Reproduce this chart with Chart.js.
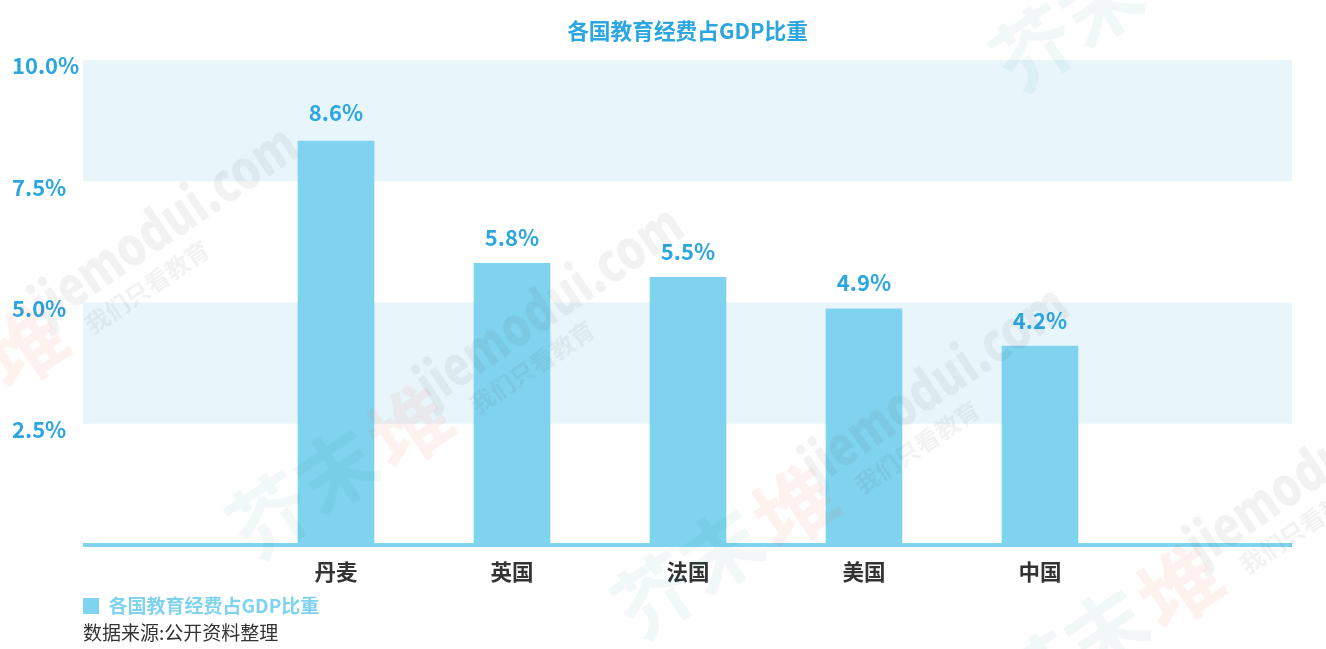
<!DOCTYPE html>
<html>
<head>
<meta charset="utf-8">
<title>各国教育经费占GDP比重</title>
<script src="https://cdn.jsdelivr.net/npm/chart.js@4"></script>
<style>
  html, body { margin: 0; padding: 0; background: #fff; }
  canvas { display: block; }
</style>
</head>
<body>
<canvas id="myChart" width="1326" height="649"></canvas>
<script>
const categories = ['丹麦', '英国', '法国', '美国', '中国'];
// bar heights as drawn; the printed labels differ a little for 丹麦
const barValues = [8.33, 5.81, 5.52, 4.87, 4.1];
const valueLabels = ['8.6%', '5.8%', '5.5%', '4.9%', '4.2%'];
const yTicks = [0, 2.5, 5, 7.5, 10];
const bandRanges = [[7.5, 10], [2.5, 5]];
const seriesName = '各国教育经费占GDP比重';
const sourceNote = '数据来源:公开资料整理';

const FONT = '"Noto Sans CJK SC", "Noto Sans", sans-serif';
const BLUE = '#2ba6e0';
const BAR = '#80d3ef';

const bandsAndMarks = {
  id: 'bandsAndMarks',
  beforeDatasetsDraw(chart) {
    const { ctx, chartArea, scales } = chart;
    ctx.save();
    ctx.fillStyle = '#e8f6fc';
    bandRanges.forEach(([lo, hi]) => {
      const top = scales.y.getPixelForValue(hi);
      const bottom = scales.y.getPixelForValue(lo);
      ctx.fillRect(chartArea.left, top, chartArea.width, bottom - top);
    });
    // axis line, cut square at the plot edges
    ctx.fillStyle = BAR;
    ctx.fillRect(chartArea.left, chartArea.bottom - 2, chartArea.width, 4);
    ctx.restore();
  },
  afterDatasetsDraw(chart) {
    const { ctx } = chart;
    ctx.save();
    ctx.font = 'bold 22px ' + FONT;
    ctx.fillStyle = BLUE;
    ctx.textAlign = 'center';
    ctx.textBaseline = 'middle';
    chart.getDatasetMeta(0).data.forEach((bar, i) => {
      ctx.fillText(valueLabels[i], bar.x, bar.y - (i === 0 ? 28 : 26));
    });
    ctx.restore();
  },
  afterDraw(chart) {
    // faint site stamp over everything
    const { ctx } = chart;
    [[1034, 48], [-115, 435], [270, 515], [655, 595], [1040, 675]].forEach(([x, y]) => {
      ctx.save();
      ctx.translate(x, y);
      ctx.rotate(-34 * Math.PI / 180);
      ctx.textBaseline = 'middle';
      ctx.font = 'bold 80px ' + FONT;
      ctx.fillStyle = 'rgba(0,120,90,0.05)';
      ctx.fillText('芥末', -40, 0);
      ctx.fillStyle = 'rgba(235,70,45,0.07)';
      ctx.fillText('堆', 125, 5);
      ctx.fillStyle = 'rgba(60,60,60,0.065)';
      ctx.save();
      ctx.translate(195, -20);
      ctx.scale(0.82, 1);
      ctx.font = '900 54px ' + FONT;
      ctx.fillText('jiemodui.com', 0, 0);
      ctx.restore();
      ctx.font = 'bold 24px ' + FONT;
      ctx.fillText('我们只看教育', 228, 24);
      ctx.restore();
    });
  },
};

new Chart(document.getElementById('myChart'), {
  type: 'bar',
  data: {
    datasets: [{
      label: seriesName,
      data: categories.map((c, i) => ({ x: i, y: barValues[i] })),
      backgroundColor: BAR,
      barThickness: 76,
    }],
  },
  options: {
    responsive: false,
    animation: false,
    layout: { padding: { left: 12, right: 34 } },
    scales: {
      x: {
        type: 'linear',
        offset: false,
        min: -1.4375,
        max: 5.432,
        afterBuildTicks(scale) {
          scale.ticks = categories.map((c, i) => ({ value: i }));
        },
        afterFit(scale) { scale.height = 51.6; },
        grid: { display: false, drawTicks: false },
        border: { display: false },
        ticks: {
          autoSkip: false,
          maxRotation: 0,
          padding: 14,
          color: '#333333',
          font: { family: FONT, size: 21.5, weight: 'bold' },
          callback: (value) => categories[value],
        },
      },
      y: {
        min: 0,
        max: 10,
        afterBuildTicks(scale) {
          scale.ticks = yTicks.map((value) => ({ value }));
        },
        afterFit(scale) { scale.width = 71; },
        grid: { display: false, drawTicks: false },
        border: { display: false },
        ticks: {
          crossAlign: 'far',
          labelOffset: 6,
          color: BLUE,
          font: { family: FONT, size: 22, weight: 'bold' },
          callback: (value) => (value === 0 ? '' : value.toFixed(1) + '%'),
        },
      },
    },
    plugins: {
      tooltip: { enabled: false },
      title: {
        display: true,
        text: seriesName,
        fullSize: false,
        color: BLUE,
        font: { family: FONT, size: 21.7, weight: 'bold' },
        padding: { top: 18, bottom: 16 },
      },
      legend: {
        position: 'bottom',
        align: 'start',
        fullSize: false,
        maxHeight: 19,
        labels: {
          boxWidth: 16,
          boxHeight: 16,
          padding: 0,
          color: BAR,
          font: { family: FONT, size: 19, weight: 'bold' },
        },
      },
      subtitle: {
        display: true,
        position: 'bottom',
        align: 'start',
        fullSize: false,
        text: sourceNote,
        color: '#333333',
        font: { family: FONT, size: 19, weight: 'normal' },
        padding: { top: 6, bottom: 4.6 },
      },
    },
  },
  plugins: [bandsAndMarks],
});
</script>
</body>
</html>
